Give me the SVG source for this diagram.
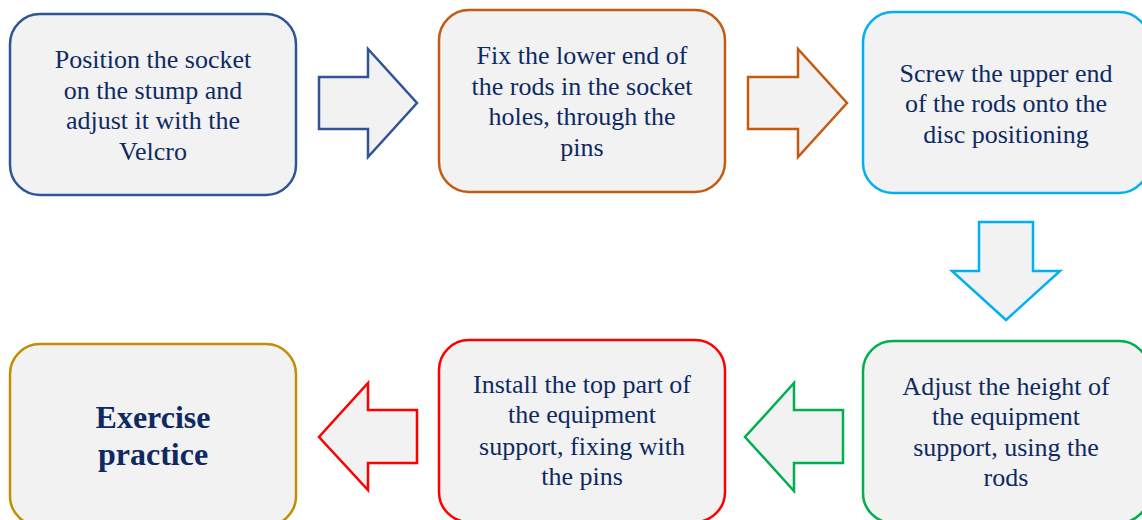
<svg xmlns="http://www.w3.org/2000/svg" width="1142" height="520" viewBox="0 0 1142 520">
<style>
.box{fill:#F2F2F2;stroke-width:2.5}
.arr{fill:#F2F2F2;stroke-width:2.5;stroke-linejoin:miter}
.t{font-size:26px;fill:#0F2A62;text-anchor:middle}
.b{font-weight:bold;font-size:32px}
</style>
<rect width="1142" height="520" fill="#FFFFFF"/>
<g font-family="Liberation Serif, Times New Roman, serif">
<g id="node1">
<rect class="box" x="10" y="14" width="286" height="181" rx="30" stroke="#2F5597"/>
<text class="t" x="153" y="68">Position the socket</text>
<text class="t" x="153" y="99">on the stump and</text>
<text class="t" x="153" y="129">adjust it with the</text>
<text class="t" x="153" y="160">Velcro</text>
</g>
<g id="node2">
<rect class="box" x="439" y="10" width="286" height="182" rx="30" stroke="#C55A11"/>
<text class="t" x="582" y="64">Fix the lower end of</text>
<text class="t" x="582" y="95">the rods in the socket</text>
<text class="t" x="582" y="125">holes, through the</text>
<text class="t" x="582" y="156">pins</text>
</g>
<g id="node3">
<rect class="box" x="863" y="12" width="286" height="181" rx="30" stroke="#00B0F0"/>
<text class="t" x="1006" y="82">Screw the upper end</text>
<text class="t" x="1006" y="112">of the rods onto the</text>
<text class="t" x="1006" y="143">disc positioning</text>
</g>
<g id="node4">
<rect class="box" x="863" y="341" width="286" height="182" rx="30" stroke="#00B050"/>
<text class="t" x="1006" y="395">Adjust the height of</text>
<text class="t" x="1006" y="425">the equipment</text>
<text class="t" x="1006" y="456">support, using the</text>
<text class="t" x="1006" y="486">rods</text>
</g>
<g id="node5">
<rect class="box" x="439" y="340" width="286" height="182" rx="30" stroke="#FF0000"/>
<text class="t" x="582" y="393">Install the top part of</text>
<text class="t" x="582" y="423">the equipment</text>
<text class="t" x="582" y="455">support, fixing with</text>
<text class="t" x="582" y="485">the pins</text>
</g>
<g id="node6">
<rect class="box" x="10" y="344" width="286" height="182" rx="30" stroke="#BF9000"/>
<text class="t b" x="153" y="428">Exercise</text>
<text class="t b" x="153" y="465">practice</text>
</g>
</g>
<g id="connectors">
<polygon class="arr" stroke="#2F5597" points="319,77 368,77 368,49 417,103 368,157 368,129 319,129"/>
<polygon class="arr" stroke="#C55A11" points="748,77 798,77 798,49 847,103 798,157 798,129 748,129"/>
<polygon class="arr" stroke="#00B0F0" points="979,222 1033,222 1033,271 1060,271 1006,320 952,271 979,271"/>
<polygon class="arr" stroke="#00B050" points="843,410 794,410 794,383 745,437 794,491 794,463 843,463"/>
<polygon class="arr" stroke="#FF0000" points="417,410 368,410 368,383 319,437 368,490 368,463 417,463"/>
</g>
</svg>
